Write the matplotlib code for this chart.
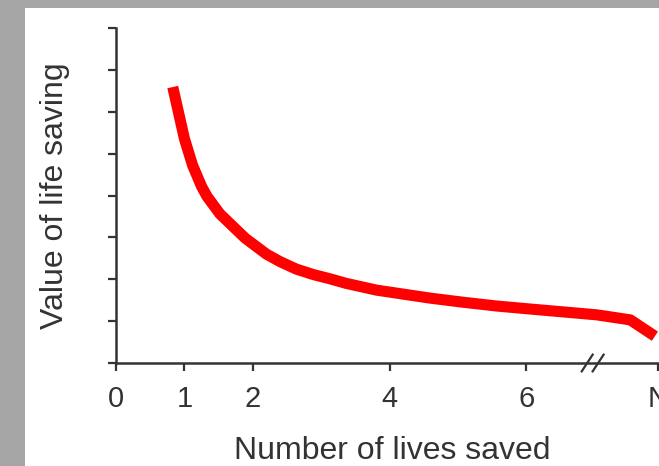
import matplotlib.pyplot as plt
from matplotlib.patches import Rectangle

plt.rcParams['font.family'] = ['Liberation Sans', 'DejaVu Sans']

# curve (x = lives saved, y = value in tick units)
lives = [0.83, 1.00, 1.12, 1.25, 1.33, 1.52, 1.89, 2.20, 2.40, 2.64, 2.89,
         3.13, 3.37, 3.81, 4.59, 5.08, 5.57, 6.05, 6.54, 7.03, 7.52, 7.88]
value = [6.59, 5.36, 4.72, 4.22, 3.98, 3.56, 2.98, 2.60, 2.42, 2.24, 2.11,
         2.01, 1.90, 1.74, 1.55, 1.45, 1.36, 1.29, 1.22, 1.15, 1.03, 0.64]

xtick_pos = [0, 1, 2, 4, 6, 7.93]
xtick_lab = ["0", "1", "2", "4", "6", "N"]
ytick_pos = [0, 1, 2, 3, 4, 5, 6, 7, 8]
break_at = 6.97

axis_col = "#333333"

fig = plt.figure(figsize=(6.59, 4.66), dpi=100)
fig.patch.set_facecolor("#a6a6a6")
fig.patches.append(Rectangle((25 / 659, 0), 1, 458 / 466, transform=fig.transFigure,
                             facecolor="white", edgecolor="none", zorder=-10))

ax = fig.add_axes([116 / 659, 103 / 466, 543 / 659, 335 / 466])
ax.set_facecolor("none")

ax.plot(lives, value, color="#ff0000", lw=8, solid_capstyle="butt",
        solid_joinstyle="round", clip_on=False)

ax.set_xlim(0, 7.94)
ax.set_ylim(0, 8)

for s in ["top", "right"]:
    ax.spines[s].set_visible(False)
for s in ["left", "bottom"]:
    ax.spines[s].set_color(axis_col)
    ax.spines[s].set_linewidth(1.8)

ax.set_xticks(xtick_pos)
ax.set_xticklabels(xtick_lab)
ax.set_yticks(ytick_pos)
ax.set_yticklabels([])
ax.tick_params(axis="both", direction="out", length=5.5, width=1.6,
               color=axis_col, labelcolor="#333333", labelsize=21)
ax.tick_params(axis="x", pad=10)

# axis break marks
for dx in [-0.08, 0.08]:
    ax.plot([break_at + dx - 0.08, break_at + dx + 0.08], [-0.2, 0.2],
            color=axis_col, lw=1.6, clip_on=False)

ax.set_xlabel("Number of lives saved", fontsize=23, color="#333333")
ax.xaxis.set_label_coords(276 / 543, -0.218)
ax.set_ylabel("Value of life saving", fontsize=23, color="#333333")
ax.yaxis.set_label_coords(-0.085, 0.5)

fig.savefig("out.png", dpi=100, facecolor=fig.get_facecolor())
